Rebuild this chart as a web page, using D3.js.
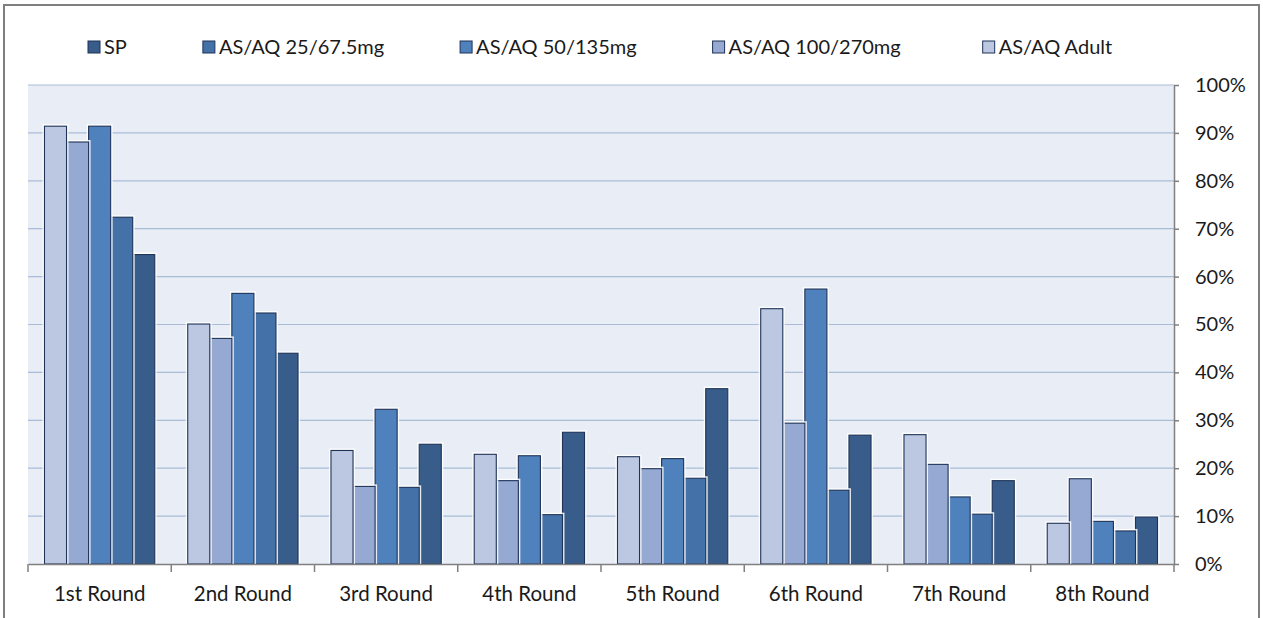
<!DOCTYPE html>
<html>
<head>
<meta charset="utf-8">
<script src="https://cdn.jsdelivr.net/npm/d3@7"></script>
<style>
  body { margin: 0; background: #fff; }
  text { font-family: Lato, "Open Sans", sans-serif; fill: #1a1a1a; }
</style>
</head>
<body>
<div id="chart"></div>
<script>
const width = 1263, height = 618;

// Categories along the x axis
const rounds = ["1st Round", "2nd Round", "3rd Round", "4th Round",
    "5th Round", "6th Round", "7th Round", "8th Round"];

// Series, in the order they appear in the legend
const series = ["SP", "AS/AQ 25/67.5mg", "AS/AQ 50/135mg", "AS/AQ 100/270mg", "AS/AQ Adult"];
const colors = ["#385d8a", "#4472a8", "#4f81bd", "#95a9d2", "#bcc8e1"];

// Values (%) per series, one per round
const sp      = [64.6, 44.0, 25.0, 27.5, 36.6, 26.9, 17.4, 9.8];
const aq25    = [72.4, 52.4, 16.0, 10.3, 17.9, 15.4, 10.4, 6.9];
const aq50    = [91.4, 56.5, 32.3, 22.6, 22.0, 57.4, 14.0, 8.9];
const aq100   = [88.1, 47.1, 16.2, 17.4, 19.9, 29.4, 20.8, 17.8];
const aqAdult = [91.4, 50.1, 23.7, 22.9, 22.4, 53.3, 27.0, 8.5];
const values = [sp, aq25, aq50, aq100, aqAdult];

const yTicks = [0, 10, 20, 30, 40, 50, 60, 70, 80, 90, 100];

const margin = { top: 85, right: 89, bottom: 54, left: 28 };
const innerW = width - margin.left - margin.right;
const innerH = height - margin.top - margin.bottom;

let svg = d3.select('#chart')
    .append('svg')
       .attr('width', width)
       .attr('height', height);

// outer chart frame
svg.append('rect')
    .attr('x', 4).attr('y', 5)
    .attr('width', 1255).attr('height', 640)
    .attr('fill', 'none')
    .attr('stroke', '#7f7f7f')
    .attr('stroke-width', 2);

let g = svg.append('g')
    .attr('transform', `translate(${margin.left},${margin.top})`);

const x0 = d3.scaleBand()
    .domain(rounds)
    .range([0, innerW])
    .paddingInner(0.23)
    .paddingOuter(0.115);

// bars drawn left to right in reverse legend order
const barOrder = series.slice().reverse();
const x1 = d3.scaleBand()
    .domain(barOrder)
    .range([0, x0.bandwidth()]);

const y = d3.scaleLinear().domain([0, 100]).range([innerH, 0]);

const color = d3.scaleOrdinal().domain(series).range(colors);

// plot background
g.append('rect')
    .attr('width', innerW)
    .attr('height', innerH)
    .attr('fill', '#e9edf5');

// gridlines
g.selectAll('.grid')
    .data(yTicks.slice(1))
    .enter()
    .append('line')
      .attr('class', 'grid')
      .attr('x1', 0).attr('x2', innerW)
      .attr('y1', d => y(d)).attr('y2', d => y(d))
      .attr('stroke', '#a9bcd8')
      .attr('stroke-width', 1.2);

// build rows for the bars
let rows = [];
rounds.forEach((r, i) => {
    series.forEach((s, j) => {
        rows.push({ round: r, name: s, value: values[j][i] });
    });
});

let bars = g.selectAll('.bar')
    .data(rows)
    .enter()
    .append('g')
      .attr('class', 'bar');

// soft white halo behind each bar
bars.append('rect')
    .attr('x', d => x0(d.round) + x1(d.name))
    .attr('y', d => y(d.value))
    .attr('width', x1.bandwidth())
    .attr('height', d => innerH - y(d.value))
    .attr('fill', 'none')
    .attr('stroke', '#ffffff')
    .attr('stroke-opacity', 0.85)
    .attr('stroke-width', 4);

bars.append('rect')
    .attr('x', d => x0(d.round) + x1(d.name))
    .attr('y', d => y(d.value))
    .attr('width', x1.bandwidth())
    .attr('height', d => innerH - y(d.value))
    .attr('fill', d => color(d.name))
    .attr('stroke', '#1f3358')
    .attr('stroke-width', 1.1);

// x axis
let xAxis = g.append('g')
    .attr('transform', `translate(0,${innerH})`)
    .call(d3.axisBottom(x0).tickSize(0).tickPadding(22));
xAxis.select('.domain').attr('stroke', '#808080').attr('stroke-width', 1.5);
xAxis.selectAll('text').style('font-size', '20.5px');

// tick marks between categories
const bounds = d3.range(rounds.length + 1).map(i => i * x0.step());
g.selectAll('.xtick')
    .data(bounds)
    .enter()
    .append('line')
      .attr('x1', d => d).attr('x2', d => d)
      .attr('y1', innerH).attr('y2', innerH + 8)
      .attr('stroke', '#808080')
      .attr('stroke-width', 1.5);

// y axis on the right
let yAxis = g.append('g')
    .attr('transform', `translate(${innerW},0)`)
    .call(d3.axisRight(y).tickValues(yTicks).tickSize(5).tickSizeOuter(0)
        .tickPadding(16).tickFormat(d => d + '%'));
yAxis.select('.domain').attr('stroke', '#808080').attr('stroke-width', 1.5);
yAxis.selectAll('.tick line').attr('stroke', '#808080').attr('stroke-width', 1.5);
yAxis.selectAll('text').style('font-size', '20px');

// legend
let legend = svg.append('g').attr('transform', 'translate(88,47)');
let lx = 0;
series.forEach((s, i) => {
    let item = legend.append('g').attr('transform', `translate(${lx},0)`);
    item.append('rect')
        .attr('x', 0).attr('y', -6)
        .attr('width', 12).attr('height', 12)
        .attr('fill', colors[i])
        .attr('stroke', '#1f3358')
        .attr('stroke-width', 1);
    let t = item.append('text')
        .attr('x', 16).attr('y', 0)
        .attr('dy', '0.35em')
        .style('font-size', '20px')
        .text(s);
    lx += 16 + t.node().getComputedTextLength() + (i === 3 ? 82 : 76);
});
</script>
</body>
</html>
